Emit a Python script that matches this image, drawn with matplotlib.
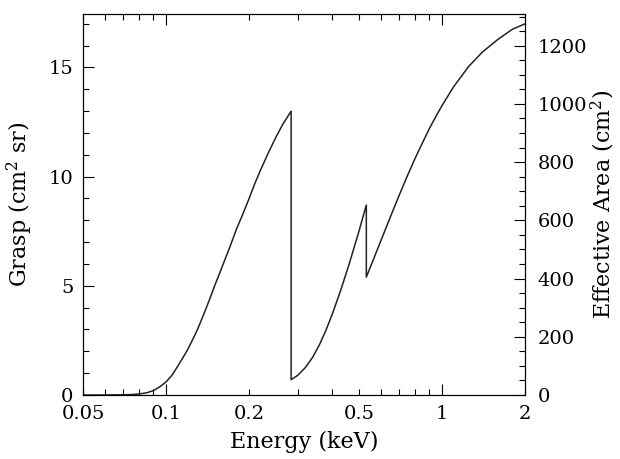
import matplotlib
matplotlib.use("Agg")
import matplotlib.pyplot as plt
from matplotlib.ticker import FixedLocator, FixedFormatter, NullFormatter

plt.rcParams["font.family"] = "DejaVu Serif"
plt.rcParams["mathtext.fontset"] = "dejavuserif"

# grasp (cm^2 sr) vs energy (keV); repeated energies are the absorption edges
energy = [0.05, 0.06, 0.07, 0.075, 0.08, 0.085, 0.09, 0.095, 0.10, 0.105, 0.11, 0.115, 0.12,
          0.125, 0.13, 0.135, 0.14, 0.145, 0.15, 0.16, 0.17, 0.18, 0.19, 0.20, 0.21, 0.22,
          0.235, 0.25, 0.265, 0.284,
          0.284, 0.30, 0.32, 0.34, 0.36, 0.38, 0.40, 0.43, 0.46, 0.50, 0.532,
          0.532, 0.56, 0.60, 0.65, 0.70, 0.75, 0.80, 0.85, 0.90, 0.95, 1.00, 1.10, 1.25,
          1.40, 1.60, 1.80, 2.00]
grasp = [0.0, 0.0, 0.01, 0.02, 0.05, 0.1, 0.2, 0.38, 0.6, 0.9, 1.3, 1.7, 2.1,
         2.55, 3.0, 3.5, 4.0, 4.5, 5.0, 5.9, 6.75, 7.6, 8.3, 9.0, 9.7, 10.3,
         11.1, 11.8, 12.4, 13.0,
         0.7, 0.9, 1.26, 1.73, 2.31, 2.97, 3.69, 4.81, 5.96, 7.49, 8.7,
         5.4, 6.1, 7.05, 8.15, 9.15, 10.05, 10.85, 11.55, 12.2, 12.75, 13.25, 14.1, 15.05,
         15.7, 16.3, 16.75, 17.0]

area_per_grasp = 75.0
grasp_max = 17.45

x_major = [0.1, 1.0]
x_minor = [0.05, 0.06, 0.07, 0.08, 0.09, 0.2, 0.3, 0.4, 0.5, 0.6, 0.7, 0.8, 0.9, 2.0]
x_minor_labels = ["0.05", "", "", "", "", "0.2", "", "", "0.5", "", "", "", "", "2"]

fig = plt.figure(figsize=(6.2, 4.59), dpi=100)
ax = fig.add_axes([83 / 620, 1 - 395 / 459, (525 - 83) / 620, (395 - 14) / 459])
ax2 = ax.twinx()

ax.plot(energy, grasp, color="#222222", lw=1.1)

ax.set_xscale("log")
ax.set_xlim(0.05, 2.0)
ax.set_ylim(0, grasp_max)
ax2.set_ylim(0, grasp_max * area_per_grasp)

ax.xaxis.set_major_locator(FixedLocator(x_major))
ax.xaxis.set_major_formatter(FixedFormatter(["0.1", "1"]))
ax.xaxis.set_minor_locator(FixedLocator(x_minor))
ax.xaxis.set_minor_formatter(FixedFormatter(x_minor_labels))

ax.yaxis.set_major_locator(FixedLocator([0, 5, 10, 15]))
ax.yaxis.set_minor_locator(FixedLocator(list(range(0, 18))))
ax2.yaxis.set_major_locator(FixedLocator(list(range(0, 1201, 200))))
ax2.yaxis.set_minor_locator(FixedLocator(list(range(0, 1301, 50))))
ax2.yaxis.set_minor_formatter(NullFormatter())

ax.tick_params(axis="x", which="both", direction="in", top=True, labelsize=14, pad=7)
ax.tick_params(axis="y", which="both", direction="in", right=False, labelsize=14, pad=7)
ax2.tick_params(axis="y", which="both", direction="in", labelsize=14, pad=9)
for a in (ax, ax2):
    a.tick_params(which="major", length=8, width=0.8)
    a.tick_params(which="minor", length=4, width=0.8)

ax.set_xlabel("Energy (keV)", fontsize=16)
ax.set_ylabel(r"Grasp (cm$^2$ sr)", fontsize=16)
ax2.set_ylabel(r"Effective Area (cm$^2$)", fontsize=16)
ax.xaxis.set_label_coords(0.5, -0.095)
ax.yaxis.set_label_coords(-0.108, 0.5)
ax2.yaxis.set_label_coords(1.145, 0.5)

fig.savefig("out.png", dpi=100)
